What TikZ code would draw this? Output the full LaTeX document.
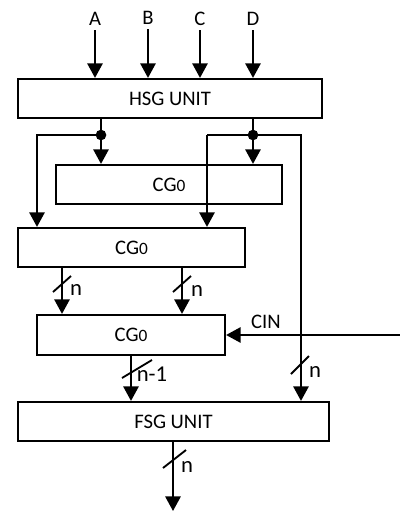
\documentclass[tikz,border=0pt]{standalone}
\usepackage{fontspec}
\setmainfont{Carlito}
\usepackage{tikz}
\usetikzlibrary{arrows.meta, calc, positioning}

\tikzset{
  unitbox/.style={draw, line width=1.6pt, inner sep=0pt},
  wire/.style={line width=1.6pt},
  feed/.style={wire, -{Triangle[length=11pt, width=11.5pt]}},
  busmark/.style={line width=1.4pt},
  buslabel/.style={font=\fontsize{17}{19}\selectfont, inner sep=0pt},
  junction/.style={circle, fill, inner sep=0pt, minimum size=8pt}
}

\begin{document}
\begin{tikzpicture}[x=0.75pt, y=-0.75pt, font=\fontsize{15.5}{18}\selectfont]
  \useasboundingbox (0,0) rectangle (400,512);

  % --- Blocos ---
  \node[unitbox, minimum width=304*0.75pt, minimum height=39*0.75pt] (hsg) at (170,98.5) {HSG UNIT};
  \node[unitbox, minimum width=226*0.75pt, minimum height=39*0.75pt] (cgA) at (169,184.5) {CG{\fontsize{13}{14}\selectfont 0}};
  \node[unitbox, minimum width=227*0.75pt, minimum height=39*0.75pt] (cgB) at (131.5,247.5) {CG{\fontsize{13}{14}\selectfont 0}};
  \node[unitbox, minimum width=188*0.75pt, minimum height=40*0.75pt] (cgC) at (131,335) {CG{\fontsize{13}{14}\selectfont 0}};
  \node[unitbox, minimum width=311*0.75pt, minimum height=39*0.75pt] (fsg) at (173.5,421.5) {FSG UNIT};

  % --- Entradas A, B, C, D ---
  \node (inA) at (95,19) {A};
  \node (inB) at (148,18) {B};
  \node (inC) at (200,19) {C};
  \node (inD) at (253,19) {D};
  \draw[feed] (inA.south) -- (inA.south |- hsg.north);
  \draw[feed] (inB.south) -- (inB.south |- hsg.north);
  \draw[feed] (inC.south) -- (inC.south |- hsg.north);
  \draw[feed] (inD.south) -- (inD.south |- hsg.north);

  % --- Derivações abaixo da HSG ---
  \node[junction] (jl) at (101,135) {};
  \node[junction] (jr) at (253,135) {};
  \coordinate (tl) at (37,135);
  \coordinate (tm) at (207,135);
  \coordinate (tr) at (301,135);
  \draw[wire] (hsg.south -| jl) -- (jl.center);
  \draw[feed] (jl.center) -- (jl |- cgA.north);
  \draw[feed] (jl.center) -- (tl) -- (tl |- cgB.north);
  \draw[wire] (hsg.south -| jr) -- (jr.center);
  \draw[feed] (jr.center) -- (jr |- cgA.north);
  \draw[feed] (tm) -- (tm |- cgB.north);
  \draw[feed] (tm) -- (tr) -- (tr |- fsg.north);

  % --- Barramentos de n bits ---
  \coordinate (bl) at (62,0);
  \coordinate (br) at (182,0);
  \coordinate (bo) at (131,0);
  \coordinate (bf) at (173,0);
  \draw[feed] (cgB.south -| bl) -- (cgC.north -| bl);
  \draw[feed] (cgB.south -| br) -- (cgC.north -| br);
  \draw[feed] (cgC.south -| bo) -- (fsg.north -| bo);
  \draw[feed] (fsg.south -| bf) -- (173,511);

  % Marcas de largura do barramento
  \draw[busmark] (53,292) -- (71,276);
  \draw[busmark] (173,292) -- (191,276);
  \draw[busmark] (122,378) -- (152,360);
  \draw[busmark] (291,374) -- (309,356);
  \draw[busmark] (163,468) -- (186,450);
  \node[buslabel] (nl) at (76,290) {n};
  \node[buslabel] (nr) at (197,291) {n};
  \node[buslabel] (no) at (152,374) {n-1};
  \node[buslabel] (nt) at (315,372) {n};
  \node[buslabel] (nf) at (187,467) {n};

  % --- Carry de entrada ---
  \coordinate (cin) at (400,335);
  \draw[feed] (cin) -- (cgC.east);
  \node (lcin) at (266,322) {CIN};

\end{tikzpicture}
\end{document}
